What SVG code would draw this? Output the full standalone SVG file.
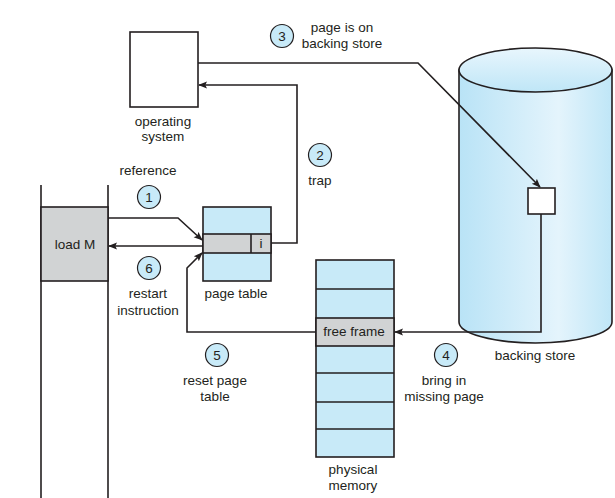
<svg xmlns="http://www.w3.org/2000/svg" width="615" height="498" viewBox="0 0 615 498">
<style>
.ln{fill:none;stroke:#231f20;stroke-width:1.6}
.bx{stroke:#231f20;stroke-width:1.6}
.blue{fill:#c8eaf8}
.gray{fill:#d1d3d4}
.t{font-family:"Liberation Sans",Arial,sans-serif;font-size:13.5px;fill:#231f20;text-anchor:middle}
.c{fill:#c8eaf8;stroke:#231f20;stroke-width:1.2}
</style>
<defs>
<marker id="ah" viewBox="0 0 10 10" refX="9" refY="5" markerWidth="9" markerHeight="9" markerUnits="userSpaceOnUse" orient="auto">
<path d="M0,1 L10,5 L0,9 L2,5 Z" fill="#231f20"/>
</marker>
<linearGradient id="cyl" x1="0" y1="0" x2="1" y2="0">
<stop offset="0" stop-color="#b9e3f6"/>
<stop offset="0.65" stop-color="#e4f4fc"/>
<stop offset="1" stop-color="#bfe6f7"/>
</linearGradient>
<linearGradient id="top" x1="0" y1="0" x2="0" y2="1">
<stop offset="0" stop-color="#e8f6fd"/>
<stop offset="1" stop-color="#bfe6f7"/>
</linearGradient>
</defs>

<g id="backing-store">
<path d="M459,70 L459,322 A76.5,21 0 0 0 612,322 L612,70 Z" fill="url(#cyl)" class="bx"/>
<ellipse cx="535.5" cy="70" rx="76.5" ry="22" fill="url(#top)" class="bx"/>
<rect x="528" y="188" width="27" height="26" fill="#ffffff" class="bx"/>
<text class="t" x="535" y="360">backing store</text>
</g>

<g id="operating-system">
<rect x="130" y="32" width="68" height="75" fill="#ffffff" class="bx"/>
<text class="t" x="163" y="126">operating</text>
<text class="t" x="163" y="141">system</text>
</g>

<g id="process">
<line class="ln" x1="41" y1="185" x2="41" y2="498"/>
<line class="ln" x1="108" y1="185" x2="108" y2="498"/>
<rect x="41" y="207" width="67" height="74" class="gray bx"/>
<text class="t" x="75" y="249">load M</text>
</g>

<g id="page-table">
<rect x="203" y="207" width="68" height="74" class="blue bx"/>
<rect x="203" y="234" width="68" height="19" class="gray bx"/>
<line class="ln" x1="251" y1="234" x2="251" y2="253"/>
<text class="t" x="261" y="248">i</text>
<text class="t" x="236" y="298">page table</text>
</g>

<g id="physical-memory">
<rect x="316" y="260" width="78" height="197" class="blue bx"/>
<rect x="316" y="318" width="78" height="28" class="gray bx"/>
<line class="ln" x1="316" y1="289" x2="394" y2="289"/>
<line class="ln" x1="316" y1="373" x2="394" y2="373"/>
<line class="ln" x1="316" y1="402" x2="394" y2="402"/>
<line class="ln" x1="316" y1="429" x2="394" y2="429"/>
<text class="t" x="354" y="336">free frame</text>
<text class="t" x="353" y="474">physical</text>
<text class="t" x="353" y="490">memory</text>
</g>

<g id="connectors">
<path class="ln" d="M108,218 L178,218 L202,240" marker-end="url(#ah)"/>
<path class="ln" d="M203,246 L109,246" marker-end="url(#ah)"/>
<path class="ln" d="M271,243 L297,243 L297,85 L199,85" marker-end="url(#ah)"/>
<path class="ln" d="M198,63 L418,63 L540,187" marker-end="url(#ah)"/>
<path class="ln" d="M541,214 L541,332 L395,332" marker-end="url(#ah)"/>
<path class="ln" d="M316,332 L187,332 L187,268 L202,253" marker-end="url(#ah)"/>
</g>

<g id="step-labels">
<circle class="c" cx="149" cy="197" r="11.5"/>
<text class="t" x="149" y="202">1</text>
<text class="t" x="148" y="175">reference</text>
<circle class="c" cx="320" cy="155" r="11.5"/>
<text class="t" x="320" y="160">2</text>
<text class="t" x="320" y="185">trap</text>
<circle class="c" cx="282" cy="36" r="11.5"/>
<text class="t" x="282" y="41">3</text>
<text class="t" x="342" y="32">page is on</text>
<text class="t" x="342" y="48">backing store</text>
<circle class="c" cx="446" cy="355" r="11.5"/>
<text class="t" x="446" y="360">4</text>
<text class="t" x="444" y="385">bring in</text>
<text class="t" x="444" y="401">missing page</text>
<circle class="c" cx="217" cy="355" r="11.5"/>
<text class="t" x="217" y="360">5</text>
<text class="t" x="215" y="385">reset page</text>
<text class="t" x="215" y="401">table</text>
<circle class="c" cx="149" cy="268" r="11.5"/>
<text class="t" x="149" y="273">6</text>
<text class="t" x="148" y="298">restart</text>
<text class="t" x="148" y="315">instruction</text>
</g>
</svg>
